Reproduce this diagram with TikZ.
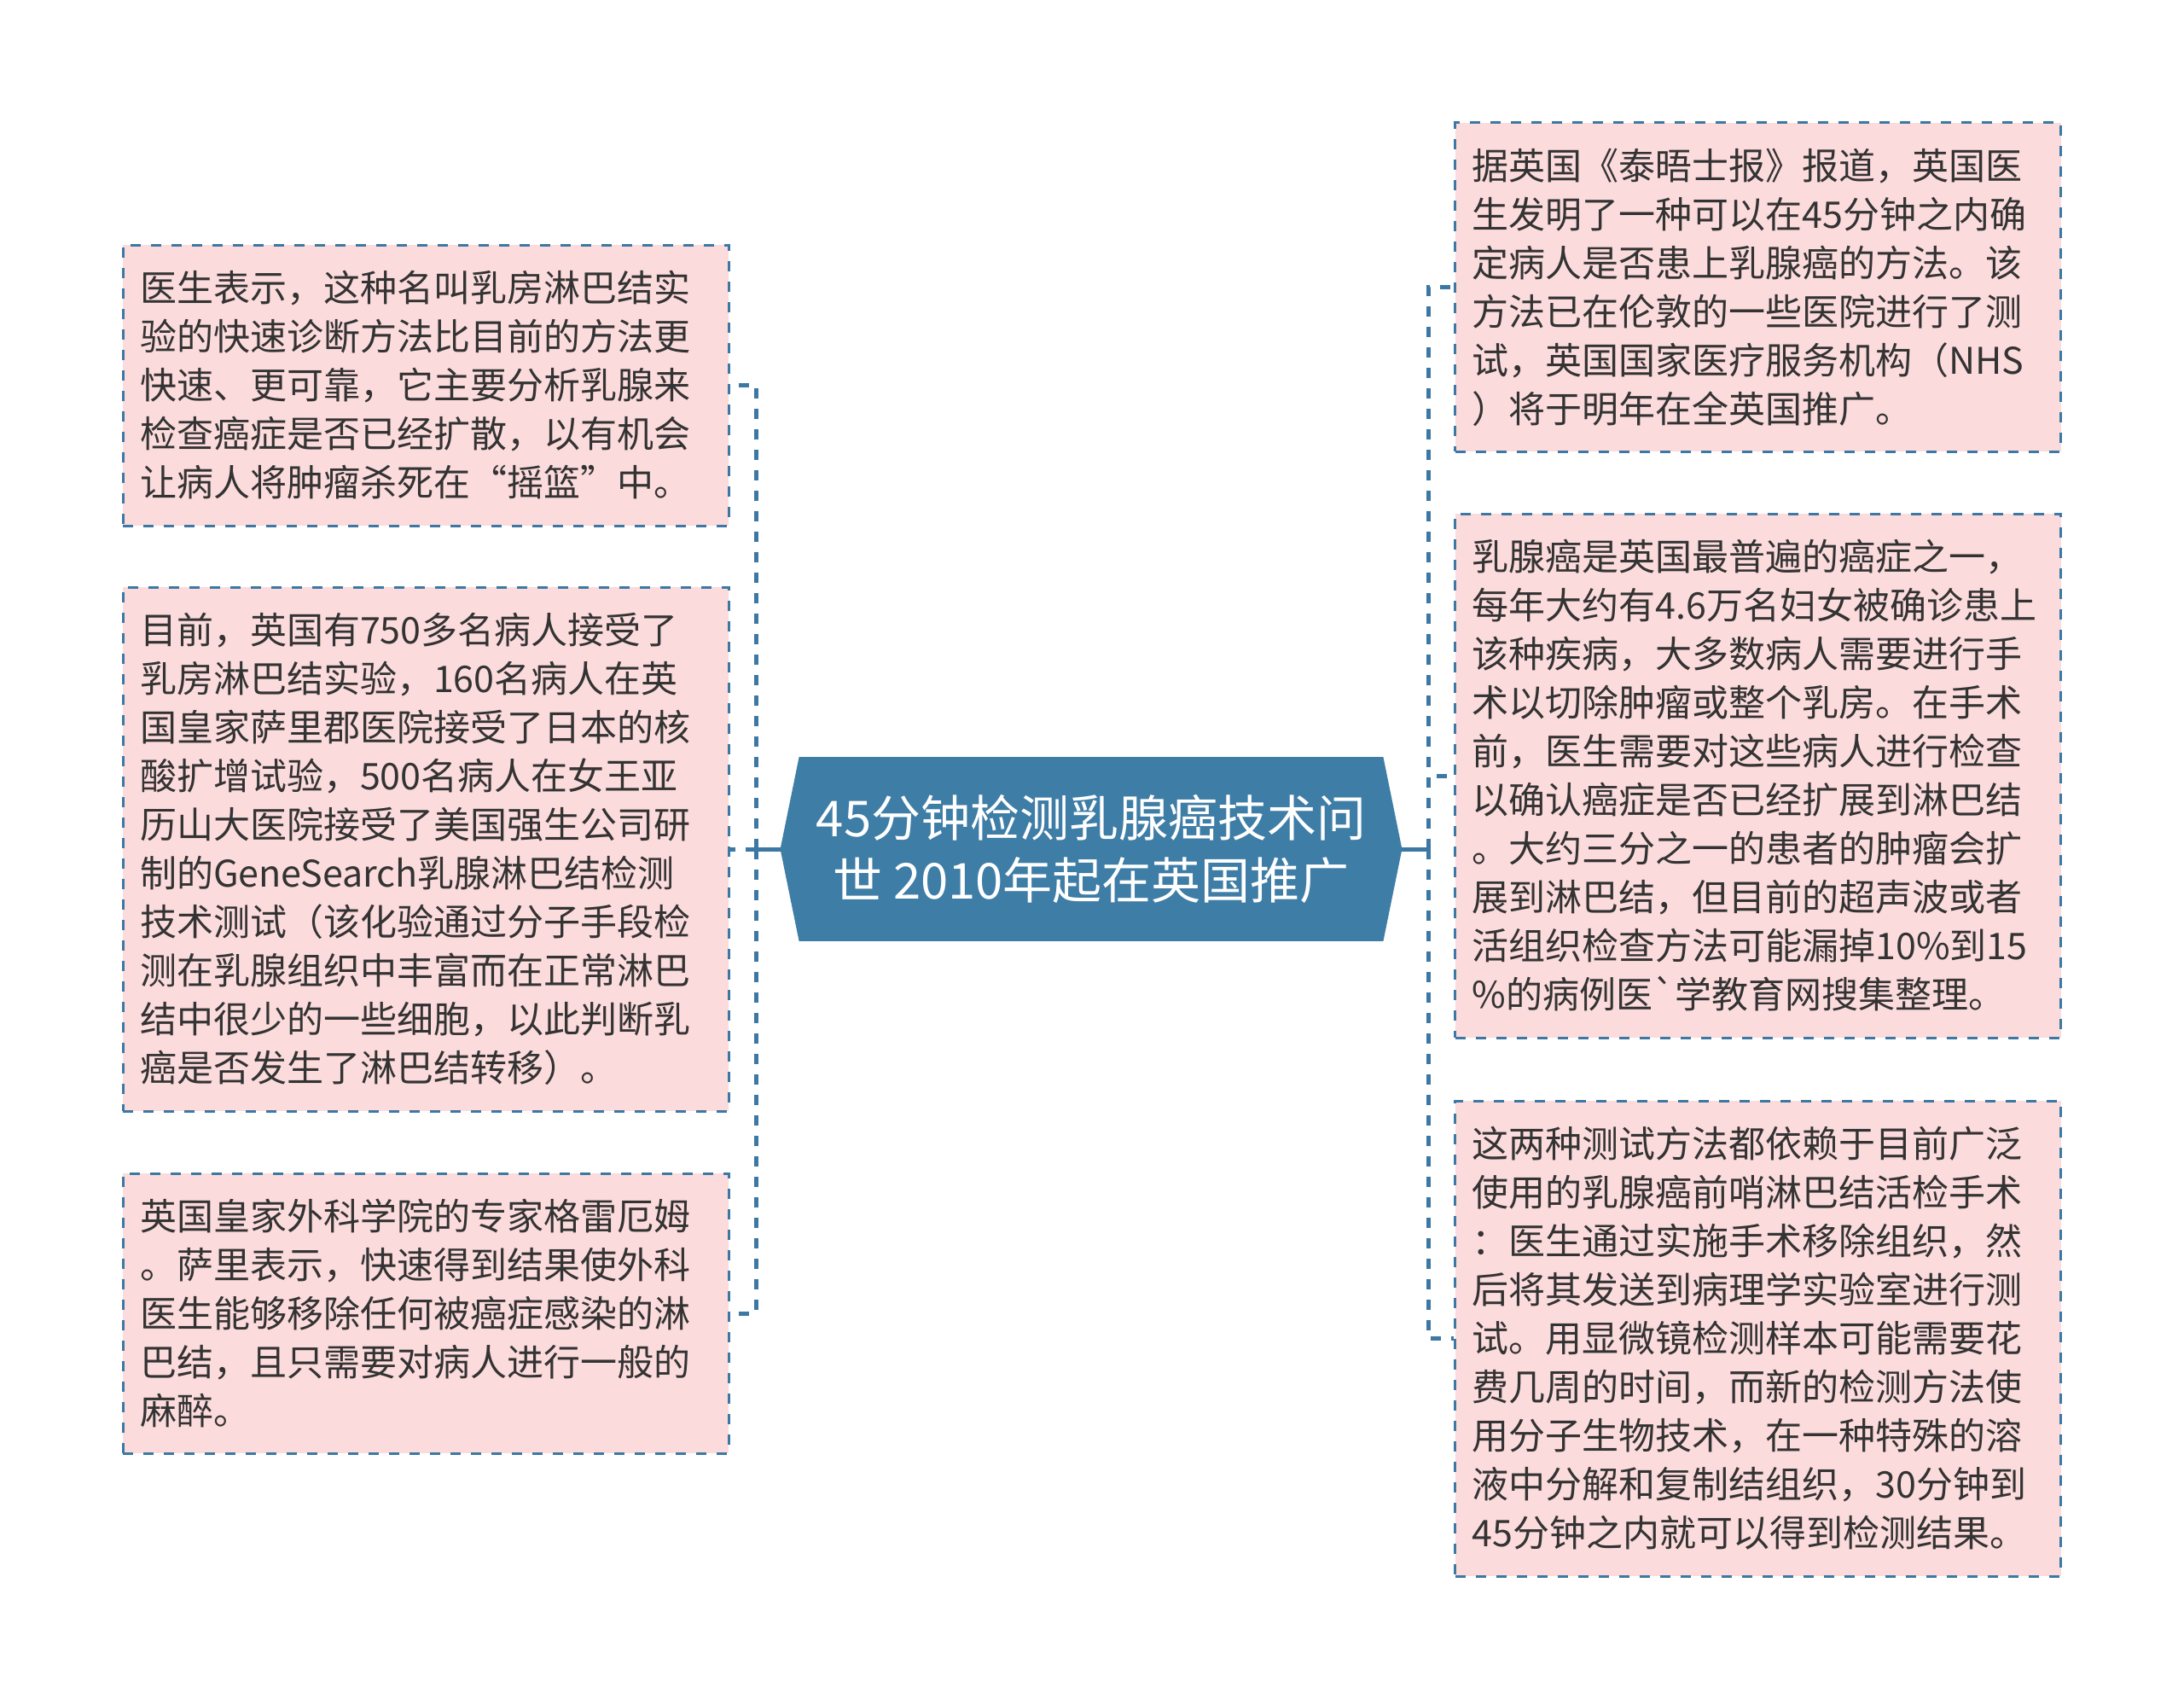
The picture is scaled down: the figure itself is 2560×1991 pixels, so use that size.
\documentclass[tikz,border=0pt]{standalone}
\usepackage{fontspec}
\setmainfont{Noto Sans CJK SC}[Ligatures=TeXOff]
\usetikzlibrary{backgrounds}
\definecolor{boxfill}{HTML}{FCDBDC}
\definecolor{lineblue}{HTML}{3C78A3}
\definecolor{rootblue}{HTML}{3E7DA6}
\definecolor{txt}{HTML}{333333}
\begin{document}
\begin{tikzpicture}[x=0.5pt,y=-0.5pt,
 leaf/.style={draw=lineblue, line width=1.5pt, dash pattern=on 6pt off 6pt, fill=boxfill, text=txt, minimum width=355pt, text width=335pt, inner xsep=10pt, inner ysep=0pt, align=left, font=\fontsize{21.5pt}{28.5pt}\selectfont, anchor=center},
 root/.style={text=white, minimum width=342pt, minimum height=107.5pt, align=center, font=\fontsize{29pt}{36.5pt}\selectfont, inner sep=0pt},
 link/.style={draw=lineblue, line width=2.5pt, dash pattern=on 6pt off 6pt},
 stem/.style={draw=lineblue, line width=2.5pt}]
\useasboundingbox (0,0) rectangle (2560,1991);

% root
\node[root] (c) at (1279,995) {45分钟检测乳腺癌技术问\\世 2010年起在英国推广};
\begin{scope}[on background layer]
\fill[white] (0,0) rectangle (2560,1991);
\fill[rootblue] (c.north west) -- (c.north east) -- ([xshift=11pt]c.east) -- (c.south east) -- (c.south west) -- ([xshift=-11pt]c.west) -- cycle;
\end{scope}
\coordinate (cl) at ([xshift=-11pt]c.west);
\coordinate (cr) at ([xshift=11pt]c.east);
\coordinate (ls) at (886,995);
\coordinate (rs) at (1674,995);

% left boxes
\node[leaf, minimum height=164.5pt] (L1) at (499,451.5) {医生表示，这种名叫乳房淋巴结实\\验的快速诊断方法比目前的方法更\\快速、更可靠，它主要分析乳腺来\\检查癌症是否已经扩散，以有机会\\让病人将肿瘤杀死在“摇篮”中。};
\node[leaf, minimum height=307pt] (L2) at (499,995) {目前，英国有750多名病人接受了\\乳房淋巴结实验，160名病人在英\\国皇家萨里郡医院接受了日本的核\\酸扩增试验，500名病人在女王亚\\历山大医院接受了美国强生公司研\\制的GeneSearch乳腺淋巴结检测\\技术测试（该化验通过分子手段检\\测在乳腺组织中丰富而在正常淋巴\\结中很少的一些细胞，以此判断乳\\癌是否发生了淋巴结转移）。};
\node[leaf, minimum height=164pt] (L3) at (499,1539) {英国皇家外科学院的专家格雷厄姆\\。萨里表示，快速得到结果使外科\\医生能够移除任何被癌症感染的淋\\巴结，且只需要对病人进行一般的\\麻醉。};

% right boxes
\node[leaf, minimum height=192.5pt] (R1) at (2060.5,336.5) {据英国《泰晤士报》报道，英国医\\生发明了一种可以在45分钟之内确\\定病人是否患上乳腺癌的方法。该\\方法已在伦敦的一些医院进行了测\\试，英国国家医疗服务机构（NHS\\）将于明年在全英国推广。};
\node[leaf, minimum height=307pt] (R2) at (2060.5,909) {乳腺癌是英国最普遍的癌症之一，\\每年大约有4.6万名妇女被确诊患上\\该种疾病，大多数病人需要进行手\\术以切除肿瘤或整个乳房。在手术\\前，医生需要对这些病人进行检查\\以确认癌症是否已经扩展到淋巴结\\。大约三分之一的患者的肿瘤会扩\\展到淋巴结，但目前的超声波或者\\活组织检查方法可能漏掉10\%到15\\\%的病例医`学教育网搜集整理。};
\node[leaf, minimum height=278.5pt] (R3) at (2060.5,1568.5) {这两种测试方法都依赖于目前广泛\\使用的乳腺癌前哨淋巴结活检手术\\：医生通过实施手术移除组织，然\\后将其发送到病理学实验室进行测\\试。用显微镜检测样本可能需要花\\费几周的时间，而新的检测方法使\\用分子生物技术，在一种特殊的溶\\液中分解和复制结组织，30分钟到\\45分钟之内就可以得到检测结果。};

% connectors
\draw[stem] (cl) -- (ls);
\draw[stem] (cr) -- (rs);
\draw[link] (ls) |- (L1.east);
\draw[link] (ls) |- (L2.east);
\draw[link] (ls) |- (L3.east);
\draw[link] (rs) |- (R1.west);
\draw[link] (rs) |- (R2.west);
\draw[link] (rs) |- (R3.west);
\end{tikzpicture}
\end{document}
